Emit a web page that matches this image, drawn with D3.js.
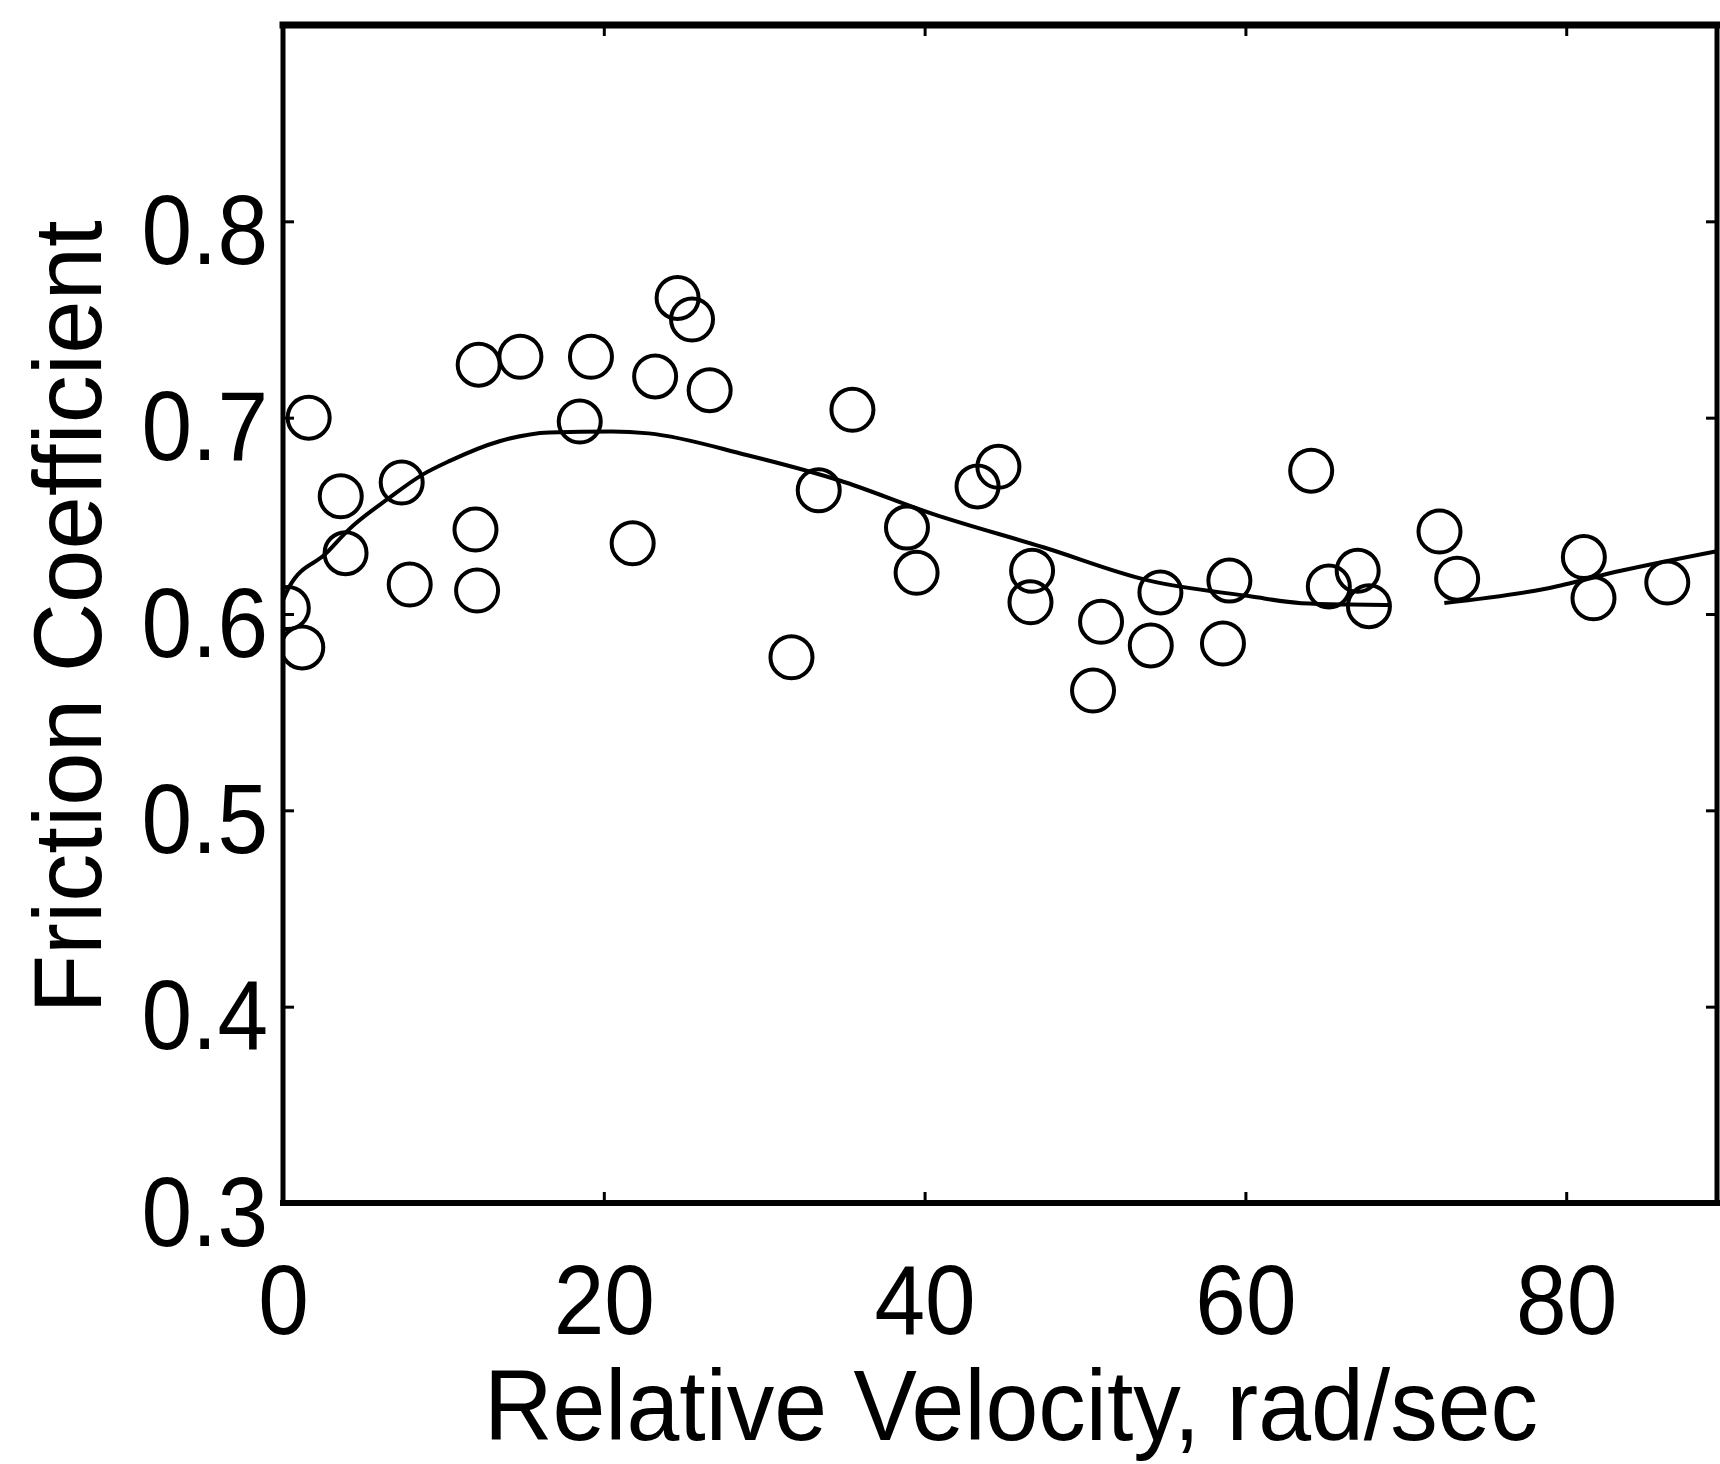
<!DOCTYPE html>
<html><head><meta charset="utf-8">
<script src="https://cdn.jsdelivr.net/npm/d3@7"></script>
<style>html,body{margin:0;padding:0;background:#fff;} svg{display:block}</style>
</head><body>
<svg id="chart" width="1720" height="1464"></svg>
<script>
// ---- data ----
const velocity = [0.3,1.2,1.6,3.6,3.9,7.4,7.9,12.0,12.1,12.2,14.8,18.5,19.2,21.8,23.2,24.6,25.5,26.6,31.7,33.4,35.5,38.9,39.5,43.3,44.6,46.7,46.6,50.5,51.0,54.1,54.7,58.6,59.0,64.1,65.2,67.0,67.7,72.1,73.2,81.1,81.7,86.3];
const friction = [0.603,0.583,0.700,0.660,0.631,0.667,0.615,0.643,0.612,0.727,0.731,0.698,0.731,0.636,0.721,0.761,0.750,0.714,0.578,0.663,0.704,0.644,0.621,0.665,0.675,0.622,0.606,0.561,0.596,0.584,0.611,0.585,0.617,0.673,0.614,0.622,0.604,0.642,0.618,0.629,0.608,0.616];
const fitVelocity = [0,0.4,2.7,4.1,6.6,8.7,10.4,13.5,16.6,20.5,22.8,28.9,34.7,40.5,47.4,54.0,60.3,63.5,66.5,69.0,70.7,72.4,78.8,83.4,89.4];
const fitFriction = [0.607,0.614,0.631,0.643,0.659,0.671,0.678,0.688,0.6925,0.693,0.692,0.681,0.668,0.651,0.634,0.617,0.609,0.6055,0.6048,0.6046,null,0.6056,0.613,0.622,0.632];
const xTicks = [0,20,40,60,80];
const yTicks = [0.3,0.4,0.5,0.6,0.7,0.8];
const xDomain = [0,89.4];
const yDomain = [0.3,0.9];
const xLabel = "Relative Velocity, rad/sec";
const yLabel = "Friction Coefficient";

// ---- layout ----
const FONT = "'Liberation Sans', Arial, Helvetica, sans-serif";
const svg = d3.select("#chart");
const x = d3.scaleLinear().domain(xDomain).range([283,1717]);
const y = d3.scaleLinear().domain(yDomain).range([1203,25]);
const X0 = x(xDomain[0]), X1 = x(xDomain[1]), Y0 = y(yDomain[0]), Y1 = y(yDomain[1]);

svg.append("defs").append("clipPath").attr("id","plotclip")
  .append("rect").attr("x",X0).attr("y",Y1).attr("width",X1-X0).attr("height",Y0-Y1);

// bottom axis (inward ticks)
const gx = svg.append("g").attr("transform",`translate(0,${Y0})`)
  .call(d3.axisBottom(x).tickValues(xTicks).tickSize(-11).tickFormat(d3.format("d")));
gx.select(".domain").remove();
gx.selectAll(".tick line").attr("stroke","#000").attr("stroke-width",3);
gx.selectAll(".tick text").attr("y",null).attr("dy",null)
  .attr("transform","translate(0,131) scale(1,1.07)")
  .attr("font-size",91).attr("font-family",FONT).attr("fill","#000");

// top ticks
const gt = svg.append("g").attr("transform",`translate(0,${Y1})`)
  .call(d3.axisTop(x).tickValues(xTicks).tickSize(-11).tickFormat(""));
gt.select(".domain").remove();
gt.selectAll(".tick line").attr("stroke","#000").attr("stroke-width",3);

// left axis
const gy = svg.append("g").attr("transform",`translate(${X0},0)`)
  .call(d3.axisLeft(y).tickValues(yTicks).tickSize(-11).tickFormat(d3.format(".1f")));
gy.select(".domain").remove();
gy.selectAll(".tick line").attr("stroke","#000").attr("stroke-width",3);
gy.selectAll(".tick text").attr("x",null).attr("dy",null)
  .attr("transform","translate(-15,42) scale(1,1.07)")
  .attr("text-anchor","end")
  .attr("font-size",91).attr("font-family",FONT).attr("fill","#000");

// right ticks
const gr = svg.append("g").attr("transform",`translate(${X1},0)`)
  .call(d3.axisRight(y).tickValues(yTicks).tickSize(-11).tickFormat(""));
gr.select(".domain").remove();
gr.selectAll(".tick line").attr("stroke","#000").attr("stroke-width",3);

// frame
const frame = svg.append("g").attr("stroke","#000").attr("fill","none").attr("stroke-linecap","square");
frame.append("line").attr("x1",X0).attr("x2",X1).attr("y1",Y1).attr("y2",Y1).attr("stroke-width",7);
frame.append("line").attr("x1",X0).attr("x2",X1).attr("y1",Y0).attr("y2",Y0).attr("stroke-width",6);
frame.append("line").attr("x1",X0).attr("x2",X0).attr("y1",Y1).attr("y2",Y0).attr("stroke-width",5);
frame.append("line").attr("x1",X1).attr("x2",X1).attr("y1",Y1).attr("y2",Y0).attr("stroke-width",5);

// fitted curve
const fit = fitVelocity.map((v,i)=>({v, f: fitFriction[i]}));
const line = d3.line().defined(d=>d.f!==null).x(d=>x(d.v)).y(d=>y(d.f)).curve(d3.curveMonotoneX);
const plot = svg.append("g").attr("clip-path","url(#plotclip)");
plot.append("path").datum(fit).attr("d",line)
  .attr("fill","none").attr("stroke","#000").attr("stroke-width",4);

// data points
const pts = velocity.map((v,i)=>({v, f: friction[i]}));
plot.selectAll("circle.pt").data(pts).join("circle").attr("class","pt")
  .attr("cx",d=>x(d.v)).attr("cy",d=>y(d.f)).attr("r",21)
  .attr("fill","none").attr("stroke","#000").attr("stroke-width",4);

// axis labels
svg.append("text").attr("transform","translate(1011,1440) scale(1,1.05)")
  .attr("text-anchor","middle").attr("font-size",95).attr("font-family",FONT).attr("fill","#000")
  .text(xLabel);
svg.append("text").attr("transform","translate(101,617) rotate(-90)")
  .attr("text-anchor","middle").attr("font-size",96).attr("font-family",FONT).attr("fill","#000")
  .text(yLabel);
</script>
</body></html>
